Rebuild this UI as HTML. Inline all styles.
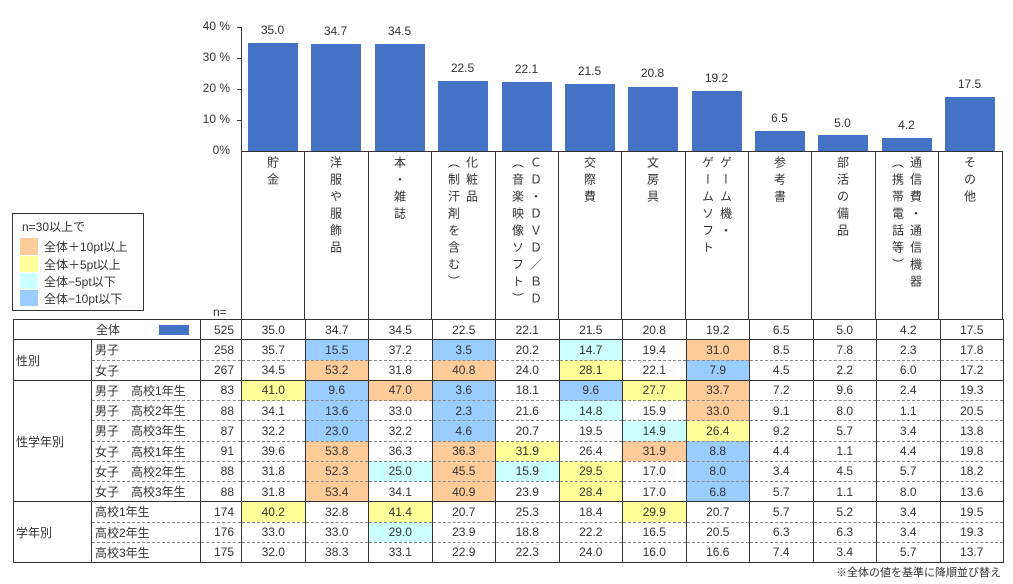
<!DOCTYPE html>
<html><head><meta charset="utf-8"><style>
body{margin:0;width:1013px;height:584px;background:#fff;position:relative;overflow:hidden;font-family:"Liberation Sans","Noto Sans CJK JP",sans-serif;color:#333;font-size:12px}
.a{position:absolute}
.bar{position:absolute;background:#4472C4;width:50px}
.val{position:absolute;width:63px;text-align:center;font-size:12px}
.yl{position:absolute;width:40px;text-align:right;left:190px;font-size:12px}
.vl{position:absolute;top:151px;height:168px;border-left:1px solid #333}
.lab{position:absolute;top:156px;width:63px;display:flex;justify-content:center}
.lab div{writing-mode:vertical-rl;text-orientation:upright;font-size:12px;line-height:18px;letter-spacing:5px}
table{position:absolute;left:13px;top:319px;border-collapse:collapse;table-layout:fixed;width:990px}
td{height:19.25px;padding:0;font-size:12px;text-align:center;border-left:1px solid #333;border-right:1px solid #333;white-space:nowrap}
tr.s td{border-top:1px solid #333}
tr.d td.x{border-top:1px dashed #888}
td.g{text-align:left;padding-left:2px}
td.l{text-align:left;padding-left:3px}
td.n{text-align:right;padding-right:7px}
.o{background:#FFCC99}.y{background:#FFFF99}.c{background:#CCFFFF}.b{background:#99CCFF}
</style></head><body>
<div class="yl" style="top:19px">40 %</div>
<div class="yl" style="top:50px">30 %</div>
<div class="yl" style="top:81px">20 %</div>
<div class="yl" style="top:112px">10 %</div>
<div class="yl" style="top:143px">0%</div>
<div class="a" style="left:241px;top:27px;height:124px;border-left:1px solid #333"></div>
<div class="a" style="left:237px;top:27px;width:4px;border-top:1px solid #333"></div>
<div class="a" style="left:237px;top:58px;width:4px;border-top:1px solid #333"></div>
<div class="a" style="left:237px;top:89px;width:4px;border-top:1px solid #333"></div>
<div class="a" style="left:237px;top:120px;width:4px;border-top:1px solid #333"></div>
<div class="a" style="left:241px;top:151px;width:762px;border-top:1px solid #333"></div>

<div class="bar" style="left:248px;top:43px;height:108px"></div><div class="val" style="left:241px;top:23px">35.0</div>
<div class="bar" style="left:311px;top:44px;height:107px"></div><div class="val" style="left:304px;top:24px">34.7</div>
<div class="bar" style="left:375px;top:44px;height:107px"></div><div class="val" style="left:368px;top:24px">34.5</div>
<div class="bar" style="left:438px;top:81px;height:70px"></div><div class="val" style="left:431px;top:61px">22.5</div>
<div class="bar" style="left:502px;top:82px;height:69px"></div><div class="val" style="left:495px;top:62px">22.1</div>
<div class="bar" style="left:565px;top:84px;height:67px"></div><div class="val" style="left:558px;top:64px">21.5</div>
<div class="bar" style="left:628px;top:87px;height:64px"></div><div class="val" style="left:621px;top:66px">20.8</div>
<div class="bar" style="left:692px;top:91px;height:60px"></div><div class="val" style="left:685px;top:71px">19.2</div>
<div class="bar" style="left:755px;top:131px;height:20px"></div><div class="val" style="left:748px;top:111px">6.5</div>
<div class="bar" style="left:818px;top:135px;height:16px"></div><div class="val" style="left:811px;top:116px">5.0</div>
<div class="bar" style="left:882px;top:138px;height:13px"></div><div class="val" style="left:875px;top:118px">4.2</div>
<div class="bar" style="left:945px;top:97px;height:54px"></div><div class="val" style="left:938px;top:77px">17.5</div>

<div class="vl" style="left:241px"></div><div class="vl" style="left:304px"></div><div class="vl" style="left:368px"></div><div class="vl" style="left:431px"></div><div class="vl" style="left:495px"></div><div class="vl" style="left:558px"></div><div class="vl" style="left:621px"></div><div class="vl" style="left:685px"></div><div class="vl" style="left:748px"></div><div class="vl" style="left:811px"></div><div class="vl" style="left:875px"></div><div class="vl" style="left:938px"></div><div class="vl" style="left:1002px"></div>

<div class="lab" style="left:241px"><div>貯金</div></div>
<div class="lab" style="left:304px"><div>洋服や服飾品</div></div>
<div class="lab" style="left:368px"><div>本・雑誌</div></div>
<div class="lab" style="left:431px"><div>化粧品<br>（制汗剤を含む）</div></div>
<div class="lab" style="left:495px"><div>ＣＤ・ＤＶＤ／ＢＤ<br>（音楽映像ソフト）</div></div>
<div class="lab" style="left:558px"><div>交際費</div></div>
<div class="lab" style="left:621px"><div>文房具</div></div>
<div class="lab" style="left:685px"><div>ゲーム機・<br>ゲームソフト</div></div>
<div class="lab" style="left:748px"><div>参考書</div></div>
<div class="lab" style="left:811px"><div>部活の備品</div></div>
<div class="lab" style="left:875px"><div>通信費・通信機器<br>（携帯電話等）</div></div>
<div class="lab" style="left:938px"><div>その他</div></div>

<div class="a" style="left:12px;top:213px;width:130px;height:96px;border:1px solid #333"></div>
<div class="a" style="left:22px;top:218px">n=30以上で</div>
<div class="a o" style="left:20px;top:238px;width:18px;height:17px"></div><div class="a" style="left:44px;top:238px">全体＋10pt以上</div>
<div class="a y" style="left:20px;top:256px;width:18px;height:16px"></div><div class="a" style="left:44px;top:256px">全体＋5pt以上</div>
<div class="a c" style="left:20px;top:273px;width:18px;height:16px"></div><div class="a" style="left:44px;top:273px">全体−5pt以下</div>
<div class="a b" style="left:20px;top:290px;width:18px;height:16px"></div><div class="a" style="left:44px;top:290px">全体−10pt以下</div>
<div class="a" style="left:213px;top:305px">n=</div>

<table>
<colgroup><col style="width:78px"><col style="width:109px"><col style="width:41px"><col span="12" style="width:63.5px"></colgroup>
<tr class="s"><td colspan="2" style="text-align:left;padding-left:82px;position:relative">全体<span style="position:absolute;left:145px;top:5px;width:30px;height:10px;background:#4472C4"></span></td><td class="n">525</td><td>35.0</td><td>34.7</td><td>34.5</td><td>22.5</td><td>22.1</td><td>21.5</td><td>20.8</td><td>19.2</td><td>6.5</td><td>5.0</td><td>4.2</td><td>17.5</td></tr>
<tr class="s"><td rowspan="2" class="g">性別</td><td class="l">男子</td><td class="n">258</td><td>35.7</td><td class="b">15.5</td><td>37.2</td><td class="b">3.5</td><td>20.2</td><td class="c">14.7</td><td>19.4</td><td class="o">31.0</td><td>8.5</td><td>7.8</td><td>2.3</td><td>17.8</td></tr>
<tr class="d"><td class="l x">女子</td><td class="n x">267</td><td class="x">34.5</td><td class="x o">53.2</td><td class="x">31.8</td><td class="x o">40.8</td><td class="x">24.0</td><td class="x y">28.1</td><td class="x">22.1</td><td class="x b">7.9</td><td class="x">4.5</td><td class="x">2.2</td><td class="x">6.0</td><td class="x">17.2</td></tr>
<tr class="s"><td rowspan="6" class="g">性学年別</td><td class="l">男子　高校1年生</td><td class="n">83</td><td class="y">41.0</td><td class="b">9.6</td><td class="o">47.0</td><td class="b">3.6</td><td>18.1</td><td class="b">9.6</td><td class="y">27.7</td><td class="o">33.7</td><td>7.2</td><td>9.6</td><td>2.4</td><td>19.3</td></tr>
<tr class="d"><td class="l x">男子　高校2年生</td><td class="n x">88</td><td class="x">34.1</td><td class="x b">13.6</td><td class="x">33.0</td><td class="x b">2.3</td><td class="x">21.6</td><td class="x c">14.8</td><td class="x">15.9</td><td class="x o">33.0</td><td class="x">9.1</td><td class="x">8.0</td><td class="x">1.1</td><td class="x">20.5</td></tr>
<tr class="d"><td class="l x">男子　高校3年生</td><td class="n x">87</td><td class="x">32.2</td><td class="x b">23.0</td><td class="x">32.2</td><td class="x b">4.6</td><td class="x">20.7</td><td class="x">19.5</td><td class="x c">14.9</td><td class="x y">26.4</td><td class="x">9.2</td><td class="x">5.7</td><td class="x">3.4</td><td class="x">13.8</td></tr>
<tr class="d"><td class="l x">女子　高校1年生</td><td class="n x">91</td><td class="x">39.6</td><td class="x o">53.8</td><td class="x">36.3</td><td class="x o">36.3</td><td class="x y">31.9</td><td class="x">26.4</td><td class="x o">31.9</td><td class="x b">8.8</td><td class="x">4.4</td><td class="x">1.1</td><td class="x">4.4</td><td class="x">19.8</td></tr>
<tr class="d"><td class="l x">女子　高校2年生</td><td class="n x">88</td><td class="x">31.8</td><td class="x o">52.3</td><td class="x c">25.0</td><td class="x o">45.5</td><td class="x c">15.9</td><td class="x y">29.5</td><td class="x">17.0</td><td class="x b">8.0</td><td class="x">3.4</td><td class="x">4.5</td><td class="x">5.7</td><td class="x">18.2</td></tr>
<tr class="d"><td class="l x">女子　高校3年生</td><td class="n x">88</td><td class="x">31.8</td><td class="x o">53.4</td><td class="x">34.1</td><td class="x o">40.9</td><td class="x">23.9</td><td class="x y">28.4</td><td class="x">17.0</td><td class="x b">6.8</td><td class="x">5.7</td><td class="x">1.1</td><td class="x">8.0</td><td class="x">13.6</td></tr>
<tr class="s"><td rowspan="3" class="g">学年別</td><td class="l">高校1年生</td><td class="n">174</td><td class="y">40.2</td><td>32.8</td><td class="y">41.4</td><td>20.7</td><td>25.3</td><td>18.4</td><td class="y">29.9</td><td>20.7</td><td>5.7</td><td>5.2</td><td>3.4</td><td>19.5</td></tr>
<tr class="d"><td class="l x">高校2年生</td><td class="n x">176</td><td class="x">33.0</td><td class="x">33.0</td><td class="x c">29.0</td><td class="x">23.9</td><td class="x">18.8</td><td class="x">22.2</td><td class="x">16.5</td><td class="x">20.5</td><td class="x">6.3</td><td class="x">6.3</td><td class="x">3.4</td><td class="x">19.3</td></tr>
<tr class="d" style="border-bottom:1px solid #333"><td class="l x">高校3年生</td><td class="n x">175</td><td class="x">32.0</td><td class="x">38.3</td><td class="x">33.1</td><td class="x">22.9</td><td class="x">22.3</td><td class="x">24.0</td><td class="x">16.0</td><td class="x">16.6</td><td class="x">7.4</td><td class="x">3.4</td><td class="x">5.7</td><td class="x">13.7</td></tr>
</table>
<div class="a" style="right:12px;top:564px;font-size:11px">※全体の値を基準に降順並び替え</div>
</body></html>
